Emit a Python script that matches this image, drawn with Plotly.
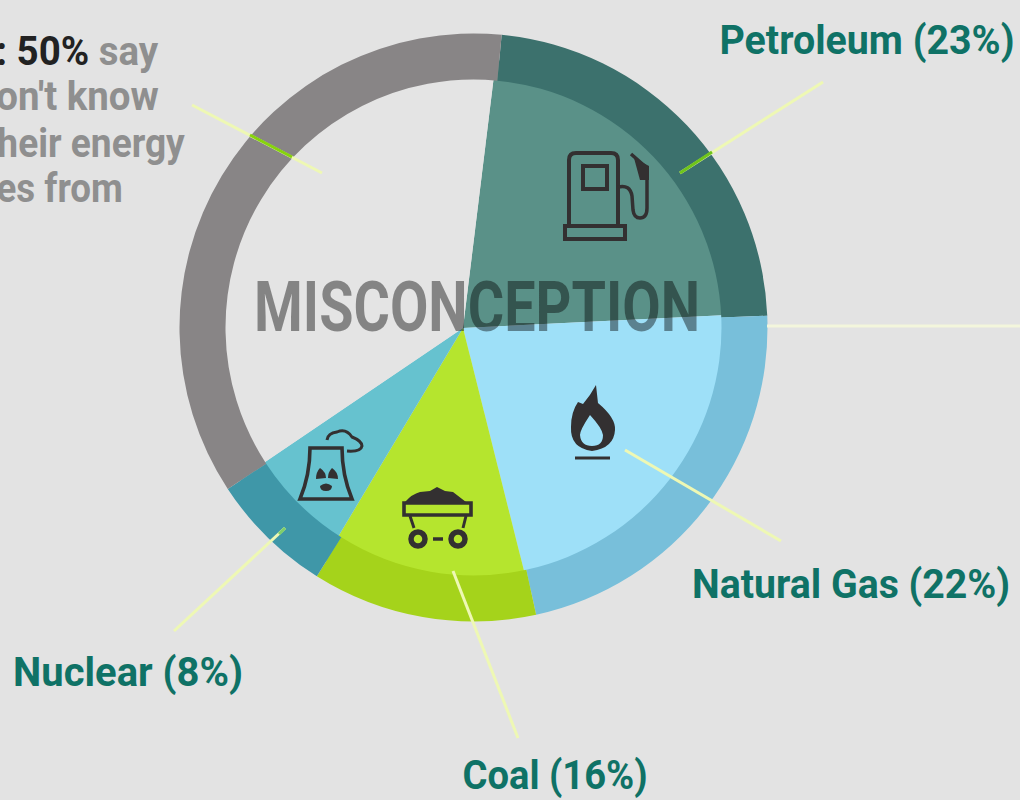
import json
import re
import plotly.graph_objects as go

W, H = 1020, 800

# ---------- data ----------
categories = ["Petroleum", "Natural Gas", "Coal", "Nuclear", "Don't know"]
wedge_spans = [80.2, 78.7, 45.0, 25.0, 131.1]   # inner wedges, read from apex
ring_spans = [82.2, 80.0, 44.5, 24.5, 128.8]    # outer ring, read from circle centre
wedge_colors = ["#5a9188", "#9ee0f8", "#b5e52e", "#66c2cf", "#e4e4e4"]
ring_colors = ["#3c716d", "#78bfda", "#a5d31b", "#3f97a8", "#888586"]
label_texts = ["Petroleum (23%)", "Natural Gas (22%)", "Coal (16%)", "Nuclear (8%)"]
side_lines = ["don't know", "their energy", "comes from"]

TEAL = "#0f7266"
GREY = "#8f8f8f"
INK = "#333031"
PALE = "#eef8b4"
FONT = "Roboto"


def pie_domain(cx, cy, r):
    return dict(x=[(cx - r) / W, (cx + r) / W], y=[1 - (cy + r) / H, 1 - (cy - r) / H])


def px_path(d):
    """Convert a path written in pixel coordinates to paper coordinates."""
    toks = re.findall(r"[MLCQZ]|-?\d+\.?\d*", d)
    out, is_x = [], True
    for t in toks:
        if t in "MLCQZ":
            out.append(t)
            is_x = True
        else:
            v = float(t)
            out.append(f"{v / W:.5f}" if is_x else f"{1 - v / H:.5f}")
            is_x = not is_x
    return " ".join(out)


shapes = []


def stroke(d, w=4, color=INK):
    shapes.append(dict(type="path", xref="paper", yref="paper", path=px_path(d),
                       line=dict(color=color, width=w), layer="above"))


def fill(d, color=INK):
    shapes.append(dict(type="path", xref="paper", yref="paper", path=px_path(d),
                       fillcolor=color, line=dict(width=0), layer="above"))


def seg(x0, y0, x1, y1, color=PALE, w=3):
    shapes.append(dict(type="line", xref="paper", yref="paper",
                       x0=x0 / W, x1=x1 / W, y0=1 - y0 / H, y1=1 - y1 / H,
                       line=dict(color=color, width=w), layer="above"))


# leader lines
seg(192, 105, 322, 173)
seg(250, 135, 292, 157, "#86d30c")
seg(823, 82, 680, 173)
seg(680, 173, 712, 152, "#6fc41a")
seg(767, 326, 1020, 326, "#f3f6dc")
seg(625, 450, 781, 541)
seg(453, 571, 518, 738)
seg(174, 631, 285, 528)
seg(279, 534, 285, 528, "#7fcf6a")

# fuel pump
stroke("M 569 227 L 569 160 Q 569 153 576 153 L 611 153 Q 618 153 618 160 L 618 227")
stroke("M 583 166 L 607 166 L 607 189 L 583 189 Z")
stroke("M 565 226 L 625 226 L 625 239 L 565 239 Z")
stroke("M 618 187 Q 630 184 632 196 L 633 210 Q 634 218 640 218 Q 647 218 647 208 L 647 168 L 631 154", 3.5)
fill("M 634 158 L 649 166 L 649 180 L 640 180 Z")

# flame
fill("M 592 451 Q 570 448 571 427 Q 571 412 578 402 L 583 404 Q 590 396 596 385 L 598 403 "
     "Q 616 418 615 430 Q 614 448 592 451 Z "
     "M 590 415 Q 580 430 580 435 Q 581 446 592 446 Q 603 446 603 435 Q 602 428 590 415 Z")
stroke("M 575 458 L 610 458", 3)

# cooling tower with cloud
stroke("M 310 448 L 342 448 Q 342 475 352 499 L 300 499 Q 310 475 310 448 Z", 3.6)
fill("M 320 468 Q 326 472 326 478 L 316 479 Q 316 472 320 468 Z")
fill("M 332 468 Q 328 472 328 478 L 338 479 Q 338 472 332 468 Z")
fill("M 320 486 Q 326 481 332 486 Q 332 491 326 491 Q 320 491 320 486 Z")
stroke("M 327 440 Q 328 433 337 432 Q 346 428 352 437 Q 362 441 362 446 Q 361 452 347 451", 3)

# coal cart
stroke("M 404 503 L 471 503 L 471 515 L 404 515 Z", 3.6)
fill("M 405 502 Q 412 494 420 492 L 430 491 L 437 487 L 445 491 L 453 492 L 466 502 Z")
stroke("M 410 516 L 414 528", 3)
stroke("M 466 516 L 463 528", 3)
stroke("M 433 539 L 443 539", 3.5)
for cx in (418, 458):
    shapes.append(dict(type="circle", xref="paper", yref="paper",
                       x0=(cx - 7) / W, x1=(cx + 7) / W, y0=1 - 546 / H, y1=1 - 532 / H,
                       line=dict(color=INK, width=5.5), fillcolor="rgba(0,0,0,0)", layer="above"))

fig = go.Figure()
fig.add_trace(go.Pie(labels=categories, values=wedge_spans, sort=False, direction="clockwise",
                     rotation=7, domain=pie_domain(463, 328, 270), hole=0,
                     marker=dict(colors=wedge_colors, line=dict(width=0)),
                     textinfo="none", hoverinfo="label", showlegend=False))
fig.add_trace(go.Pie(labels=categories, values=ring_spans, sort=False, direction="clockwise",
                     rotation=5.5, domain=pie_domain(473.5, 327.5, 294), hole=248 / 294,
                     marker=dict(colors=ring_colors, line=dict(width=0)),
                     textinfo="none", hoverinfo="label", showlegend=False))

fit_widths = []


def note(cx, y, text, color, width, size=40):
    fit_widths.append(width)
    return dict(x=cx / W, y=1 - y / H, xref="paper", yref="paper", text=text, showarrow=False,
                xanchor="center", yanchor="middle", borderpad=0,
                font=dict(family=FONT, size=size, color=color, weight=700))


annotations = [
    note(867, 40, label_texts[0], TEAL, 295),
    note(851, 584, label_texts[1], TEAL, 318),
    note(555, 775, label_texts[2], TEAL, 185),
    note(128, 672, label_texts[3], TEAL, 230),
    note(77, 52, "<span style='color:#222222'>: 50%</span> say", GREY, 162),
    note(66, 97, side_lines[0], GREY, 184),
    note(85, 144, side_lines[1], GREY, 200),
    note(24, 188, side_lines[2], GREY, 198),
    note(477, 307, "MISCONCEPTION", "rgba(0,0,0,0.42)", 446, size=70),
]

fig.update_layout(width=W, height=H, margin=dict(l=0, r=0, t=0, b=0),
                  paper_bgcolor="#e3e3e3", plot_bgcolor="#e3e3e3",
                  shapes=shapes, annotations=annotations, showlegend=False)

post = ("document.body.style.margin='0';"
        f"var fit={json.dumps(fit_widths)};"
        "document.querySelectorAll('.annotation-text').forEach(function(t,i){"
        "t.setAttribute('textLength',fit[i]);"
        "t.setAttribute('lengthAdjust','spacingAndGlyphs');});")
fig.write_html("out.html", post_script=post, config={"displayModeBar": False})
